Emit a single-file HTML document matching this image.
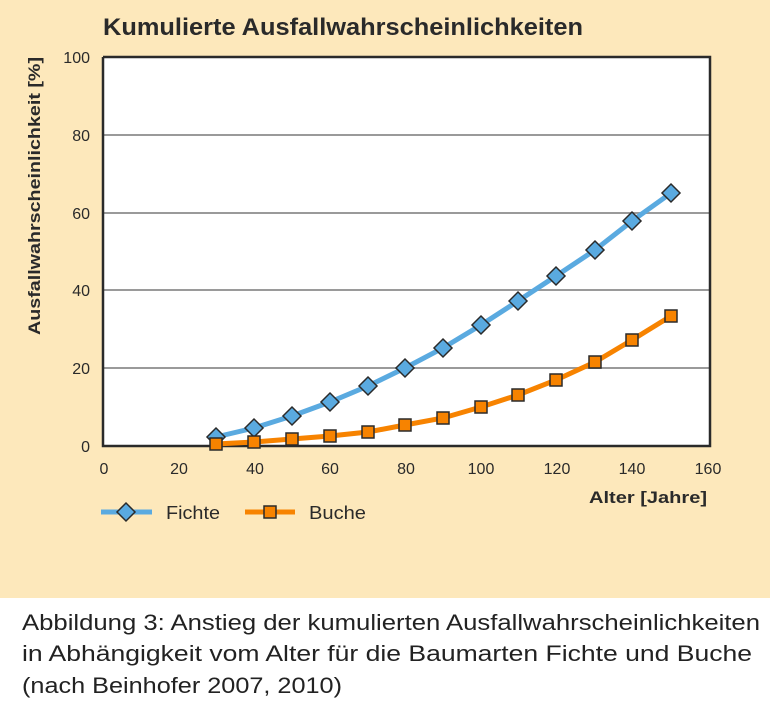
<!DOCTYPE html>
<html><head><meta charset="utf-8"><style>
body{margin:0;width:770px;height:710px;background:#fff;font-family:"Liberation Sans",sans-serif;}
</style></head><body>
<svg width="770" height="710" xmlns="http://www.w3.org/2000/svg" style="display:block">
<rect x="0" y="0" width="770" height="598" fill="#fde8bb"/>
<text x="103" y="35" font-size="24" font-weight="bold" fill="#2a2a2a" textLength="480" lengthAdjust="spacingAndGlyphs">Kumulierte Ausfallwahrscheinlichkeiten</text>
<rect x="103" y="57" width="607" height="389" fill="#fff"/>
<g stroke="#9a9a9a" stroke-width="2">
<line x1="103" y1="135" x2="710" y2="135"/><line x1="103" y1="213" x2="710" y2="213"/>
<line x1="103" y1="290" x2="710" y2="290"/><line x1="103" y1="368" x2="710" y2="368"/>
</g>
<path d="M103 57V446H710V57H103" fill="none" stroke="#2a2a2a" stroke-width="2.5"/>
<g font-size="16" fill="#2a2a2a" text-anchor="end">
<text x="90" y="63">100</text><text x="90" y="141">80</text><text x="90" y="219">60</text><text x="90" y="296">40</text><text x="90" y="374">20</text><text x="90" y="452">0</text>
</g>
<g font-size="16" fill="#2a2a2a" text-anchor="middle">
<text x="104" y="474">0</text><text x="179" y="474">20</text><text x="255" y="474">40</text><text x="330" y="474">60</text><text x="406" y="474">80</text><text x="481" y="474">100</text><text x="557" y="474">120</text><text x="632" y="474">140</text><text x="708" y="474">160</text>
</g>
<text x="589" y="503" font-size="17" font-weight="bold" fill="#2a2a2a" textLength="118" lengthAdjust="spacingAndGlyphs">Alter [Jahre]</text>
<text transform="translate(40,335) rotate(-90)" font-size="17" font-weight="bold" fill="#2a2a2a" textLength="278" lengthAdjust="spacingAndGlyphs">Ausfallwahrscheinlichkeit [%]</text>
<polyline fill="none" stroke="#5aaae0" stroke-width="5" points="216,437 254,428 292,416 330,402 368,386 405,368 443,348 481,325 518,301 556,276 595,250 632,221 671,193"/>
<polyline fill="none" stroke="#f78300" stroke-width="5" points="216,444 254,442 292,439 330,436 368,432 405,425 443,418 481,407 518,395 556,380 595,362 632,340 671,316"/>
<g fill="#5aaae0" stroke="#2a2a2a" stroke-width="1.5">
<path d="M0,-9L9,0L0,9L-9,0Z" transform="translate(216,437)"/>
<path d="M0,-9L9,0L0,9L-9,0Z" transform="translate(254,428)"/>
<path d="M0,-9L9,0L0,9L-9,0Z" transform="translate(292,416)"/>
<path d="M0,-9L9,0L0,9L-9,0Z" transform="translate(330,402)"/>
<path d="M0,-9L9,0L0,9L-9,0Z" transform="translate(368,386)"/>
<path d="M0,-9L9,0L0,9L-9,0Z" transform="translate(405,368)"/>
<path d="M0,-9L9,0L0,9L-9,0Z" transform="translate(443,348)"/>
<path d="M0,-9L9,0L0,9L-9,0Z" transform="translate(481,325)"/>
<path d="M0,-9L9,0L0,9L-9,0Z" transform="translate(518,301)"/>
<path d="M0,-9L9,0L0,9L-9,0Z" transform="translate(556,276)"/>
<path d="M0,-9L9,0L0,9L-9,0Z" transform="translate(595,250)"/>
<path d="M0,-9L9,0L0,9L-9,0Z" transform="translate(632,221)"/>
<path d="M0,-9L9,0L0,9L-9,0Z" transform="translate(671,193)"/>
</g>
<line x1="101" y1="512" x2="152" y2="512" stroke="#5aaae0" stroke-width="5"/>
<path d="M0,-9L9,0L0,9L-9,0Z" transform="translate(126,512)" fill="#5aaae0" stroke="#2a2a2a" stroke-width="1.5"/>
<line x1="245" y1="512" x2="295" y2="512" stroke="#f78300" stroke-width="5"/>
<g fill="#f78300" stroke="#2a2a2a" stroke-width="1.5">
<rect x="210" y="438" width="12" height="12"/><rect x="248" y="436" width="12" height="12"/><rect x="286" y="433" width="12" height="12"/><rect x="324" y="430" width="12" height="12"/><rect x="362" y="426" width="12" height="12"/><rect x="399" y="419" width="12" height="12"/><rect x="437" y="412" width="12" height="12"/><rect x="475" y="401" width="12" height="12"/><rect x="512" y="389" width="12" height="12"/><rect x="550" y="374" width="12" height="12"/><rect x="589" y="356" width="12" height="12"/><rect x="626" y="334" width="12" height="12"/><rect x="665" y="310" width="12" height="12"/>
<rect x="264" y="506" width="12" height="12"/>
</g>
<text x="166" y="519" font-size="18" fill="#2a2a2a" textLength="54" lengthAdjust="spacingAndGlyphs">Fichte</text>
<text x="309" y="519" font-size="18" fill="#2a2a2a" textLength="57" lengthAdjust="spacingAndGlyphs">Buche</text>
<g font-size="22" fill="#222">
<text x="22" y="630" textLength="738" lengthAdjust="spacingAndGlyphs">Abbildung 3: Anstieg der kumulierten Ausfallwahrscheinlichkeiten</text>
<text x="22" y="661" textLength="730" lengthAdjust="spacingAndGlyphs">in Abhängigkeit vom Alter für die Baumarten Fichte und Buche</text>
<text x="22" y="693" textLength="320" lengthAdjust="spacingAndGlyphs">(nach Beinhofer 2007, 2010)</text>
</g>
</svg>
</body></html>
